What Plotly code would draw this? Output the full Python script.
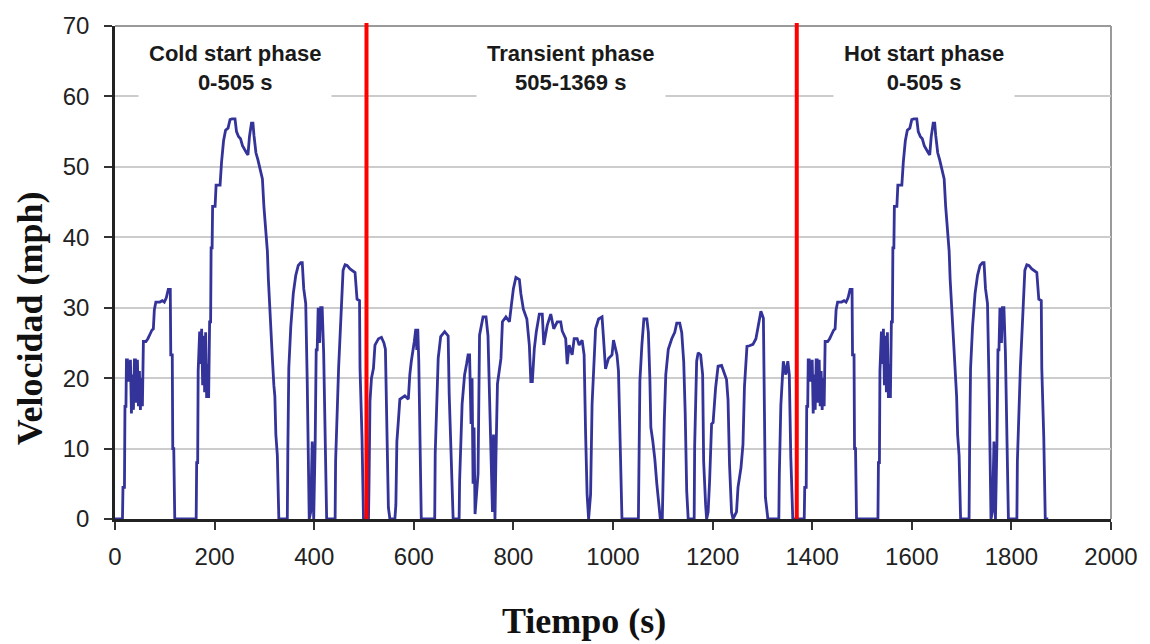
import plotly.graph_objects as go

# ---------------- data ----------------
# Cold start phase, seconds 0-505
cold_time = [0, 15, 16, 19, 20, 22, 23, 25, 27, 29, 31, 33, 35, 37, 39, 41, 43, 45, 47, 49,
             51, 53, 55, 57, 62, 66, 70, 74, 77, 79, 82, 90, 95, 99, 103, 107, 111, 112, 115, 116,
             118, 120, 163, 164, 166, 167, 170, 172, 174, 176, 178, 180, 182, 184, 186, 188, 190, 192, 193, 195,
             196, 201, 203, 211, 214, 218, 222, 227, 231, 235, 241, 244, 248, 252, 256, 260, 264, 267, 270, 274,
             277, 279, 283, 287, 292, 296, 299, 303, 306, 308, 311, 313, 316, 319, 321, 323, 326, 329, 346, 347,
             349, 353, 358, 363, 368, 373, 376, 379, 383, 386, 388, 390, 393, 396, 399, 402, 404, 406, 408, 411,
             413, 416, 419, 422, 425, 442, 443, 449, 454, 458, 462, 466, 472, 478, 482, 486, 491, 492, 496, 499,
             505]
cold_speed = [0, 0, 4.5, 4.5, 16, 16, 22.6, 22.6, 19.5, 20.5, 22.6, 15, 20.5, 15.5, 22.6, 22.6, 16.5, 22.6, 16, 21,
              15.5, 20, 16, 25.2, 25.2, 25.6, 26.2, 26.8, 27, 29.7, 30.8, 30.8, 31, 30.8, 31.4, 32.6, 32.6, 23.3, 23.3, 10,
              10, 0, 0, 8, 8, 21, 26.6, 22, 27, 19, 26, 18, 26.5, 17.2, 22, 17.2, 28, 28, 38.5, 38.5,
              44.4, 44.4, 47.4, 47.4, 50.7, 53.7, 55.2, 55.5, 56.7, 56.8, 56.8, 55, 54.3, 54, 53, 52.4, 52, 51.7, 54.3, 56.2,
              56.2, 54.5, 52, 51, 49.5, 48.3, 44.4, 40.5, 38, 34, 30.4, 28, 22.8, 19, 17.4, 12, 9, 0, 0, 9.3,
              21.4, 27.3, 32, 34.6, 36, 36.4, 36.4, 32.7, 30.6, 19.5, 10, 0, 1, 11, 0, 11, 24, 24, 30, 25,
              30, 30, 23.6, 8.8, 0, 0, 8.2, 21.4, 30.6, 35.3, 36.1, 36, 35.5, 35.2, 35, 31.2, 31, 21.4, 11.6, 0,
              0]

# Transient phase, seconds 505-1369
transient_time = [509, 510, 512, 515, 519, 522, 529, 535, 540, 543, 546, 549, 552, 562, 564, 566, 569, 572, 582, 589,
                  592, 595, 601, 604, 606, 608, 610, 612, 615, 642, 643, 649, 654, 662, 669, 671, 675, 679, 691, 692,
                  697, 702, 706, 709, 712, 715, 717, 719, 721, 723, 729, 732, 739, 745, 749, 752, 755, 758, 760, 763,
                  765, 768, 775, 778, 785, 792, 796, 800, 805, 812, 815, 820, 827, 832, 835, 838, 842, 846, 852, 858,
                  861, 868, 875, 881, 888, 895, 898, 905, 908, 912, 918, 922, 928, 932, 938, 942, 945, 948, 951, 955,
                  958, 961, 965, 971, 978, 981, 985, 991, 998, 1001, 1008, 1011, 1015, 1018, 1051, 1052, 1054, 1058, 1062, 1068,
                  1071, 1074, 1076, 1080, 1084, 1088, 1092, 1095, 1099, 1100, 1103, 1106, 1111, 1118, 1124, 1128, 1134, 1138, 1142, 1145,
                  1148, 1151, 1163, 1164, 1168, 1171, 1176, 1180, 1182, 1186, 1188, 1191, 1194, 1198, 1201, 1206, 1211, 1218, 1224, 1228,
                  1231, 1234, 1238, 1241, 1248, 1251, 1257, 1261, 1264, 1269, 1274, 1281, 1287, 1293, 1297, 1302, 1304, 1306, 1311, 1333,
                  1334, 1337, 1342, 1347, 1351, 1354, 1357, 1361, 1369]
transient_speed = [0, 4.5, 16.7, 20, 21.4, 24.7, 25.6, 25.8, 25, 24.1, 11.3, 1.6, 0, 0, 2, 11, 13.9, 17, 17.5, 17,
                   20.5, 22.4, 25.2, 27, 24, 27, 22.4, 11.3, 0, 0, 9.3, 22.8, 25.9, 26.6, 26, 17.9, 7.7, 0, 0, 5.4,
                   16.3, 20.5, 22, 23.3, 23.3, 13.5, 20, 5, 13, 0.7, 6.4, 26.1, 28.7, 28.7, 26, 18.8, 8.6, 1, 12, 0,
                   9, 19.2, 22.8, 28, 28.7, 28, 30.4, 32.7, 34.3, 34, 32, 29.8, 28.4, 24.7, 19.5, 19.5, 24.2, 26.6, 29.1, 29.1,
                   24.7, 27.5, 29.1, 27, 28, 28, 26.7, 25.6, 22, 24.7, 23.3, 25.6, 25.6, 24.7, 25.4, 23.3, 12.1, 3.5, 0, 3.5,
                   16.3, 21.7, 27, 28.4, 28.7, 25.6, 21.3, 22.8, 23.3, 25.4, 23.3, 21, 10.4, 0, 0, 9.3, 19.6, 24.7, 28.4, 28.4,
                   26.5, 20, 13, 11, 8.5, 5, 2, 0, 0, 5, 14, 20.5, 24.1, 25.6, 26.5, 27.8, 27.8, 26.5, 22.3, 15,
                   4, 0, 0, 10.4, 22.4, 23.6, 23.3, 20.5, 8.2, 2, 0, 1, 5.4, 13.5, 13.7, 18.6, 21.7, 21.8, 20.5, 19.8,
                   16.9, 7.7, 1, 0, 1, 4.5, 7.3, 10.6, 18.8, 24.5, 24.6, 24.8, 25.6, 28, 29.5, 28.5, 16.3, 3.1, 0, 0,
                   6.4, 16.1, 22.4, 20.5, 22.4, 20.5, 8.8, 0, 0]

# Hot start phase, phase-local seconds 0-505 (starts at 1369 s)
hot_phase_time = [0, 15, 16, 19, 20, 22, 23, 25, 27, 29, 31, 33, 35, 37, 39, 41, 43, 45, 47, 49,
                  51, 53, 55, 57, 62, 66, 70, 74, 77, 79, 82, 90, 95, 99, 103, 107, 111, 112, 115, 116,
                  118, 120, 163, 164, 166, 167, 170, 172, 174, 176, 178, 180, 182, 184, 186, 188, 190, 192, 193, 195,
                  196, 201, 203, 211, 214, 218, 222, 227, 231, 235, 241, 244, 248, 252, 256, 260, 264, 267, 270, 274,
                  277, 279, 283, 287, 292, 296, 299, 303, 306, 308, 311, 313, 316, 319, 321, 323, 326, 329, 346, 347,
                  349, 353, 358, 363, 368, 373, 376, 379, 383, 386, 388, 390, 393, 396, 399, 402, 404, 406, 408, 411,
                  413, 416, 419, 422, 425, 442, 443, 449, 454, 458, 462, 466, 472, 478, 482, 486, 491, 492, 496, 499,
                  505]
hot_speed = [0, 0, 4.5, 4.5, 16, 16, 22.6, 22.6, 19.5, 20.5, 22.6, 15, 20.5, 15.5, 22.6, 22.6, 16.5, 22.6, 16, 21,
             15.5, 20, 16, 25.2, 25.2, 25.6, 26.2, 26.8, 27, 29.7, 30.8, 30.8, 31, 30.8, 31.4, 32.6, 32.6, 23.3, 23.3, 10,
             10, 0, 0, 8, 8, 21, 26.6, 22, 27, 19, 26, 18, 26.5, 17.2, 22, 17.2, 28, 28, 38.5, 38.5,
             44.4, 44.4, 47.4, 47.4, 50.7, 53.7, 55.2, 55.5, 56.7, 56.8, 56.8, 55, 54.3, 54, 53, 52.4, 52, 51.7, 54.3, 56.2,
             56.2, 54.5, 52, 51, 49.5, 48.3, 44.4, 40.5, 38, 34, 30.4, 28, 22.8, 19, 17.4, 12, 9, 0, 0, 9.3,
             21.4, 27.3, 32, 34.6, 36, 36.4, 36.4, 32.7, 30.6, 19.5, 10, 0, 1, 11, 0, 11, 24, 24, 30, 25,
             30, 30, 23.6, 8.8, 0, 0, 8.2, 21.4, 30.6, 35.3, 36.1, 36, 35.5, 35.2, 35, 31.2, 31, 21.4, 11.6, 0,
             0]

phase_bounds = [505, 1369]
phase_labels = ["Cold start phase<br>0-505 s", "Transient phase<br>505-1369 s", "Hot start phase<br>0-505 s"]
phase_label_x = [240, 915, 1624]
phase_label_y = 64.0

x_ticks = list(range(0, 2001, 200))
y_ticks = list(range(0, 71, 10))

x_title = "Tiempo (s)"
y_title = "Velocidad (mph)"

# ---------------- build ----------------
hot_start = phase_bounds[1]
time_all = cold_time + transient_time + [hot_start + t for t in hot_phase_time]
speed_all = cold_speed + transient_speed + hot_speed

sans = "Liberation Sans, Arial, Helvetica, sans-serif"
serif = "Liberation Serif, Times New Roman, serif"

fig = go.Figure()
fig.add_trace(go.Scatter(
    x=time_all, y=speed_all, mode="lines",
    line=dict(color="#333399", width=2.8),
    showlegend=False, hoverinfo="x+y",
))

for b in phase_bounds:
    fig.add_shape(type="line", xref="x", yref="paper", x0=b, x1=b, y0=0, y1=1.006,
                  line=dict(color="#ff0000", width=4), layer="above")

# top and right frame (gray)
fig.add_shape(type="line", xref="paper", yref="paper", x0=0, x1=1, y0=1, y1=1,
              line=dict(color="#9a9a9a", width=2), layer="below")
fig.add_shape(type="line", xref="paper", yref="paper", x0=1, x1=1, y0=0, y1=1,
              line=dict(color="#9a9a9a", width=2), layer="below")

for txt, xv in zip(phase_labels, phase_label_x):
    fig.add_annotation(x=xv, y=phase_label_y, xref="x", yref="y", text="<b>" + txt + "</b>",
                       showarrow=False, align="center", bgcolor="white", borderpad=10,
                       xanchor="center", yanchor="middle",
                       font=dict(family=sans, size=22, color="#1a1a1a"))

fig.add_annotation(xref="paper", yref="paper", x=-0.085, y=0.408, text="<b>" + y_title + "</b>",
                   textangle=-90, showarrow=False, xanchor="center", yanchor="middle",
                   font=dict(family=serif, size=36, color="#111111"))
fig.add_annotation(xref="paper", yref="paper", x=0.471, y=-0.207, text="<b>" + x_title + "</b>",
                   showarrow=False, xanchor="center", yanchor="middle",
                   font=dict(family=serif, size=36, color="#111111"))

fig.update_layout(
    width=1150, height=644,
    margin=dict(l=115, r=33, t=21, b=125),
    paper_bgcolor="white", plot_bgcolor="white",
    font=dict(family=sans, size=24, color="#222222"),
)
fig.update_xaxes(
    range=[0, 2000], tickvals=x_ticks, ticktext=[str(v) for v in x_ticks],
    showgrid=False, zeroline=False,
    showline=True, linecolor="#222222", linewidth=2.5,
    ticks="outside", ticklen=8, tickwidth=1.5, tickcolor="#333333",
    ticklabelstandoff=6,
    tickfont=dict(family=sans, size=24, color="#222222"),
)
fig.update_yaxes(
    range=[0, 70], tickvals=y_ticks, ticktext=[str(v) for v in y_ticks],
    showgrid=True, gridcolor="#cccccc", gridwidth=2, zeroline=False,
    showline=True, linecolor="#222222", linewidth=2.5,
    ticks="outside", ticklen=8, tickwidth=2, tickcolor="#333333",
    ticklabelstandoff=10,
    tickfont=dict(family=sans, size=24, color="#222222"),
)

fig.write_html("out.html", config={"displayModeBar": False},
               post_script="document.body.style.margin='0';")
